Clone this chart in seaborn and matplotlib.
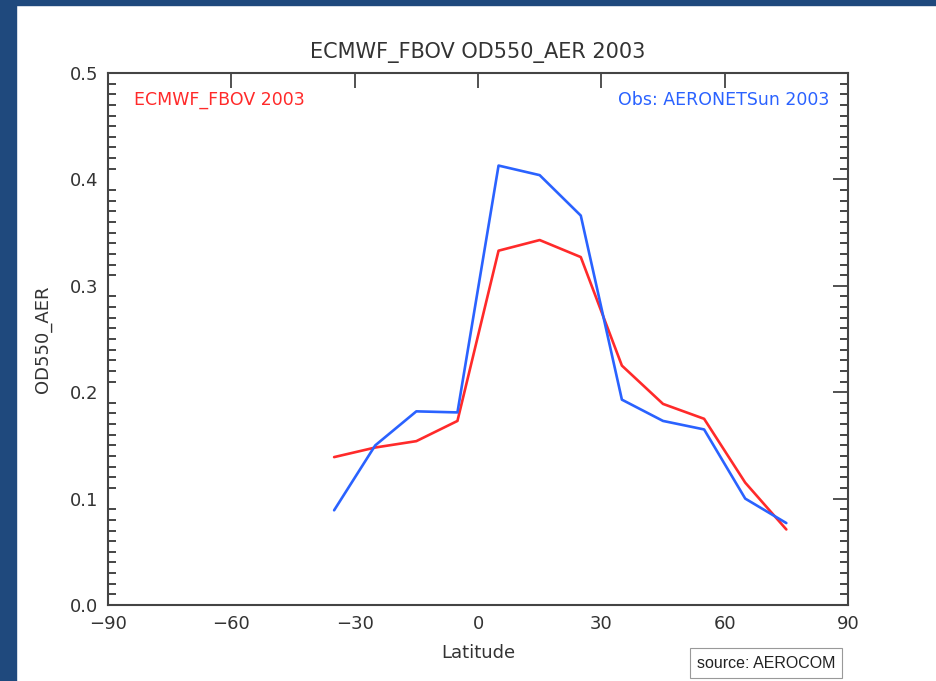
import numpy as np
import pandas as pd
import matplotlib
matplotlib.use("Agg")
import matplotlib.pyplot as plt
from matplotlib.patches import Rectangle
from matplotlib.ticker import MultipleLocator
import seaborn as sns

latitude = [-35, -25, -15, -5, 5, 15, 25, 35, 45, 55, 65, 75]
model_vals = [0.139, 0.148, 0.154, 0.173, 0.333, 0.343, 0.327, 0.225, 0.189, 0.175, 0.115, 0.071]
obs_vals = [0.089, 0.150, 0.182, 0.181, 0.413, 0.404, 0.366, 0.193, 0.173, 0.165, 0.100, 0.077]
model_name = "ECMWF_FBOV 2003"
obs_name = "Obs: AERONETSun 2003"
x_ticks = [-90, -60, -30, 0, 30, 60, 90]
y_ticks = [0.0, 0.1, 0.2, 0.3, 0.4, 0.5]

df = pd.DataFrame({
    "Latitude": latitude * 2,
    "OD550_AER": model_vals + obs_vals,
    "series": [model_name] * len(latitude) + [obs_name] * len(latitude),
})

sns.set_style("white")
plt.rcParams["font.family"] = ["DejaVu Sans"]

fig = plt.figure(figsize=(9.36, 6.81), dpi=100, facecolor="white")
navy = "#1f497d"
fig.patches.append(Rectangle((0, 0), 16 / 936, 1, transform=fig.transFigure, color=navy, zorder=0))
fig.patches.append(Rectangle((0, 1 - 5 / 681), 1, 5 / 681, transform=fig.transFigure, color=navy, zorder=0))

ax = fig.add_axes([108 / 936, 1 - 605 / 681, 740 / 936, 532 / 681])
red = "#ff2a2a"
blue = "#2a62ff"
sns.lineplot(data=df, x="Latitude", y="OD550_AER", hue="series",
             palette={model_name: red, obs_name: blue}, linewidth=1.9,
             legend=False, ax=ax, sort=False)

ax.set_xlim(-90, 90)
ax.set_ylim(0, 0.5)
ax.set_xticks(x_ticks)
ax.set_xticklabels(["\u221290", "\u221260", "\u221230", "0", "30", "60", "90"])
ax.set_yticks(y_ticks)
ax.set_yticklabels([f"{v:.1f}" for v in y_ticks])
ax.yaxis.set_minor_locator(MultipleLocator(0.01))
ax.tick_params(axis="both", which="major", direction="in", length=11, width=1.2,
               top=True, right=True, labelsize=13, colors="#333333", pad=7)
ax.tick_params(axis="y", which="minor", direction="in", length=6, width=1.2,
               left=True, right=True)
ax.tick_params(axis="x", which="minor", bottom=False, top=False)
for s in ax.spines.values():
    s.set_linewidth(1.5)
    s.set_color("#444444")

ax.set_xlabel("Latitude", fontsize=13, color="#333333", labelpad=8)
ax.set_ylabel("OD550_AER", fontsize=13, color="#333333", labelpad=13)
ax.set_title("ECMWF_FBOV OD550_AER 2003", fontsize=15, color="#333333", pad=11)

ax.text(0.035, 0.95, model_name, transform=ax.transAxes, color=red,
        fontsize=12.5, ha="left", va="center")
ax.text(0.975, 0.95, obs_name, transform=ax.transAxes, color=blue,
        fontsize=12.5, ha="right", va="center")

fig.text(766 / 936, 1 - 663 / 681, "source: AEROCOM", fontsize=11.5, ha="center", va="center",
         family="Liberation Sans", color="#222222",
         bbox=dict(boxstyle="square,pad=0.45", facecolor="white", edgecolor="#999999", linewidth=0.8))

fig.savefig("out.png", dpi=100, facecolor="white")
